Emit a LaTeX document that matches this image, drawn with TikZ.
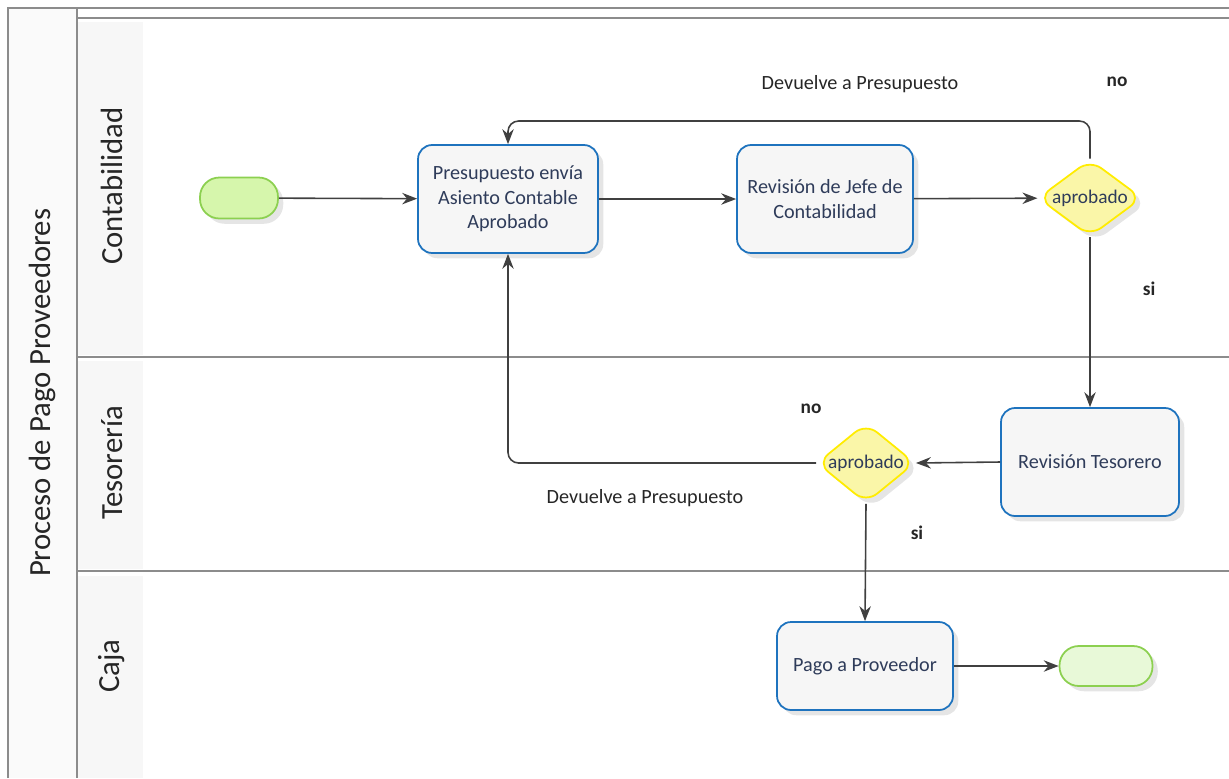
\documentclass[tikz,border=0pt]{standalone}
\usepackage{fontspec}
\setmainfont{Carlito}
\usetikzlibrary{arrows.meta,shapes.geometric,shadows}

\definecolor{laneline}{RGB}{140,140,140}
\definecolor{taskblue}{RGB}{30,115,190}
\definecolor{tasktext}{RGB}{47,60,90}
\definecolor{startgreen}{RGB}{214,246,172}
\definecolor{endgreen}{RGB}{232,249,216}
\definecolor{termline}{RGB}{140,208,80}
\definecolor{gateyellow}{RGB}{250,246,168}
\definecolor{gateline}{RGB}{255,236,0}
\definecolor{flowgray}{RGB}{64,64,64}

\begin{document}
\begin{tikzpicture}[
    x=0.02cm, y=-0.02cm,
    >={Stealth[length=8.5pt,width=6.5pt]},
    lane/.style={draw=laneline, line width=1.1pt},
    lanelabel/.style={rotate=90, font=\fontsize{17.5}{20}\selectfont, text=black!85},
    shade/.style={drop shadow={shadow xshift=3pt, shadow yshift=-3pt,
      fill=gray!45, opacity=.45}},
    task/.style={shade, draw=taskblue, line width=1pt, rounded corners=8pt,
      fill=gray!7, text=tasktext, align=center, inner sep=2pt,
      font=\fontsize{11.5}{14}\selectfont},
    gate/.style={shade, diamond, draw=gateline, line width=1pt, rounded corners=8pt,
      fill=gateyellow, text=tasktext, inner sep=0pt, aspect=1.35,
      font=\fontsize{11}{14}\selectfont},
    term/.style={shade, draw=termline, line width=1pt, rounded corners=11pt},
    flow/.style={->, draw=flowgray, line width=0.9pt, rounded corners=6pt},
    note/.style={font=\fontsize{11.5}{13}\selectfont, text=black!85},
    answer/.style={note, font=\fontsize{11}{13}\selectfont\bfseries}
  ]
  \useasboundingbox (0,0) rectangle (1229,778);

  % Pool and lanes
  \fill[gray!4] (8,8) rectangle (77,778);
  \fill[gray!6] (77,22) rectangle (143,355);
  \fill[gray!6] (77,361) rectangle (143,569);
  \fill[gray!6] (77,576) rectangle (143,778);
  \draw[lane] (8,778) -- (8,8) -- (1229,8);
  \draw[lane] (77,8) -- (77,778);
  \draw[lane] (77,18) -- (1229,18);
  \draw[lane] (77,357) -- (1229,357);
  \draw[lane] (77,571) -- (1229,571);

  \node[lanelabel] (pool) at (42,393) {Proceso de Pago Proveedores};
  \node[lanelabel] (contab) at (112,186) {Contabilidad};
  \node[lanelabel] (tesor) at (112,463) {Tesorería};
  \node[lanelabel] (caja) at (112,666) {Caja};

  % Contabilidad
  \node[term, fill=startgreen, minimum width=1.56cm, minimum height=0.82cm] (start) at (239,198) {};
  \node[task, minimum width=3.6cm, minimum height=2.16cm] (t1) at (508,199)
    {Presupuesto envía\\Asiento Contable\\Aprobado};
  \node[task, minimum width=3.52cm, minimum height=2.16cm] (t2) at (825,199)
    {Revisión de Jefe de\\Contabilidad};
  \node[gate, minimum width=2.08cm, minimum height=1.54cm] (d1) at (1090,198) {aprobado};
  \coordinate (back1) at (800,121);

  % Tesorería
  \node[task, minimum width=3.56cm, minimum height=2.16cm] (t3) at (1090,462) {Revisión Tesorero};
  \node[gate, minimum width=1.96cm, minimum height=1.6cm] (d2) at (866,463) {aprobado};

  % Caja
  \node[task, minimum width=3.52cm, minimum height=1.76cm] (t4) at (865,666) {Pago a Proveedor};
  \node[term, fill=endgreen, minimum width=1.86cm, minimum height=0.8cm] (end) at (1106,666) {};

  % Flows
  \draw[flow] (start) -- (t1);
  \draw[flow] (t1) -- (t2);
  \draw[flow] (t2) -- (d1);
  \draw[flow] (d1.north) -- (d1.north |- back1) -| (t1.north);
  \draw[flow] (d1.south) -- (t3.north);
  \draw[flow] (t3.west) -- (d2.east);
  \draw[flow] (d2.west) -| (t1.south);
  \draw[flow] (d2.south) -- (t4.north);
  \draw[flow] (t4) -- (end);

  % Labels
  \node[note] (ret1) at (860,84) {Devuelve a Presupuesto};
  \node[answer] (no1) at (1117,82) {no};
  \node[answer] (si1) at (1149,289) {si};
  \node[note] (ret2) at (645,498) {Devuelve a Presupuesto};
  \node[answer] (no2) at (811,409) {no};
  \node[answer] (si2) at (917,533) {si};
\end{tikzpicture}
\end{document}
